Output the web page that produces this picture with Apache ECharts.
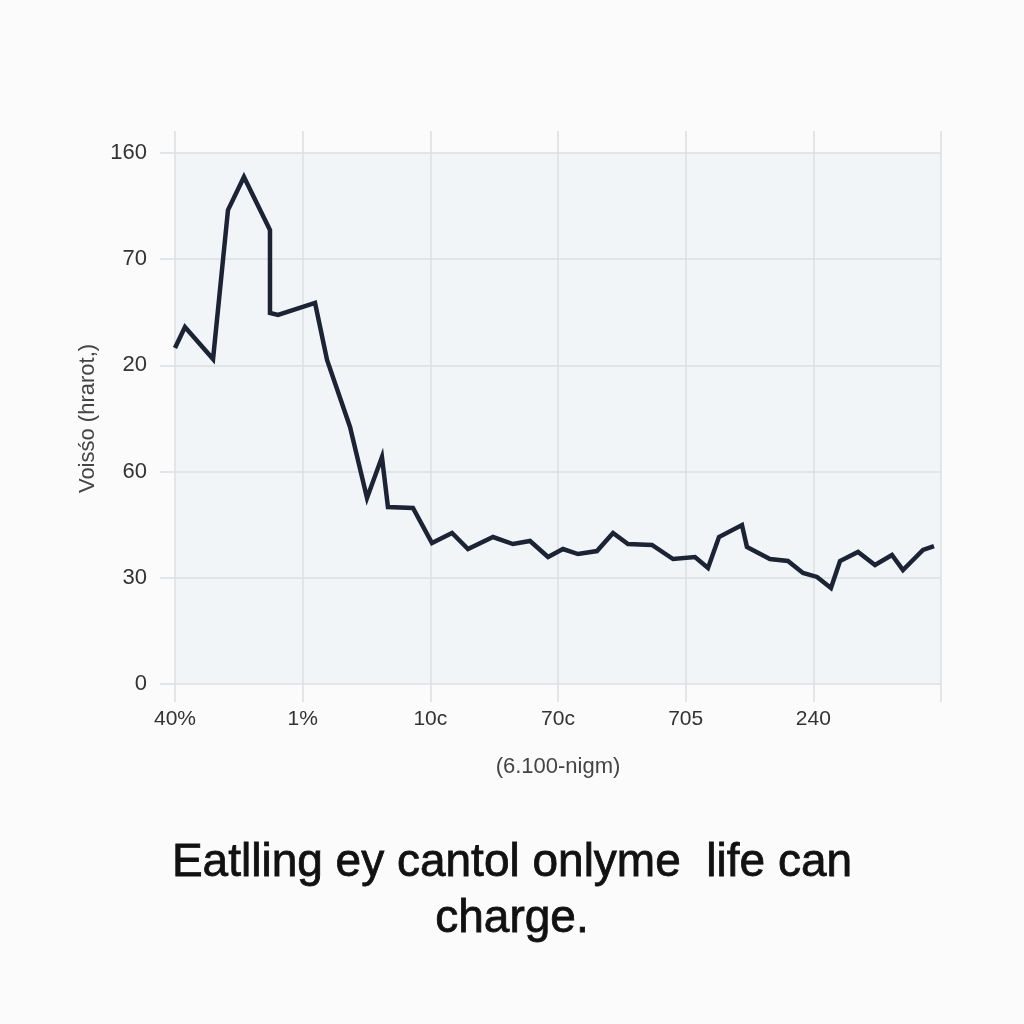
<!DOCTYPE html>
<html>
<head>
<meta charset="utf-8">
<script src="https://cdn.jsdelivr.net/npm/echarts@6/dist/echarts.min.js"></script>
<style>
html,body{margin:0;padding:0;background:#fbfbfb;}
#chart{width:1024px;height:1024px;}
</style>
</head>
<body>
<div id="chart"></div>
<script>
// Tick labels (as printed in the reference)
var xTickLabels = ['40%', '1%', '10c', '70c', '705', '240', ''];
var yTickLabels = ['0', '30', '60', '20', '70', '160'];
// Series: positions in axis tick units
var xValues = [0, 0.078, 0.298, 0.415, 0.540, 0.744, 0.744, 0.807, 1.097, 1.191,
  1.371, 1.504, 1.621, 1.668, 1.864, 2.013, 2.170, 2.295, 2.491, 2.647,
  2.781, 2.922, 3.039, 3.157, 3.305, 3.431, 3.548, 3.736, 3.901, 4.073,
  4.175, 4.261, 4.441, 4.480, 4.660, 4.801, 4.919, 5.029, 5.138, 5.209,
  5.350, 5.483, 5.616, 5.702, 5.859, 5.945];
var yValues = [3.164, 3.362, 3.060, 4.463, 4.774, 4.275, 3.493, 3.475, 3.588, 3.051,
  2.420, 1.751, 2.137, 1.667, 1.657, 1.328, 1.422, 1.271, 1.384, 1.318,
  1.347, 1.196, 1.271, 1.224, 1.252, 1.422, 1.318, 1.309, 1.177, 1.196,
  1.092, 1.384, 1.497, 1.290, 1.177, 1.158, 1.045, 1.008, 0.904, 1.158,
  1.243, 1.121, 1.215, 1.073, 1.262, 1.299];
var titleText = 'Eatlling ey cantol onl\u0443me  life can\ncharge.';
var xName = '(6.100-nigm)';
var yName = 'Vois\u015bo (hrarot,)';

var seriesData = xValues.map(function (x, i) { return [x, yValues[i]]; });
var gridColor = '#dcdfe3';
var chart = echarts.init(document.getElementById('chart'));
chart.setOption({
  backgroundColor: '#fbfbfb',
  animation: false,
  title: {
    text: titleText,
    left: 'center',
    top: 830,
    textStyle: {
      fontFamily: 'Liberation Sans',
      fontSize: 46,
      fontWeight: 'normal',
      color: '#111',
      textBorderColor: '#111',
      textBorderWidth: 0.8,
      lineHeight: 56,
      align: 'center'
    }
  },
  grid: {
    left: 175, right: 83, top: 153, bottom: 340,
    show: true, backgroundColor: '#f2f5f8', borderWidth: 0
  },
  xAxis: [{
    type: 'value', min: 0, max: 6, interval: 1,
    position: 'bottom',
    name: xName, nameLocation: 'middle', nameGap: 72,
    nameTextStyle: { fontFamily: 'Liberation Sans', fontSize: 22, color: '#444' },
    axisLine: { show: false },
    axisTick: { show: true, length: 18, lineStyle: { color: gridColor, width: 1.5 } },
    axisLabel: {
      margin: 25, fontFamily: 'Liberation Sans', fontSize: 21, color: '#333',
      showMaxLabel: true,
      formatter: function (v) { return xTickLabels[Math.round(v)] || ''; }
    },
    splitLine: { show: true, lineStyle: { color: gridColor, width: 1.5 } }
  }, {
    type: 'value', min: 0, max: 6, interval: 1,
    position: 'top',
    axisLine: { show: false },
    axisTick: { show: true, length: 22, lineStyle: { color: gridColor, width: 1.5 } },
    axisLabel: { show: false },
    splitLine: { show: false }
  }],
  yAxis: {
    type: 'value', min: 0, max: 5, interval: 1,
    name: yName, nameLocation: 'middle', nameGap: 66, nameRotate: 90,
    nameTextStyle: { fontFamily: 'Liberation Sans', fontSize: 22, color: '#444' },
    axisLine: { show: false },
    axisTick: { show: true, length: 15, lineStyle: { color: gridColor, width: 1.5 } },
    axisLabel: {
      margin: 28, fontFamily: 'Liberation Sans', fontSize: 22, color: '#333',
      formatter: function (v) { return yTickLabels[Math.round(v)]; }
    },
    splitLine: { show: true, lineStyle: { color: gridColor, width: 1.5 } }
  },
  series: [{
    type: 'line',
    data: seriesData,
    showSymbol: false,
    symbol: 'none',
    lineStyle: { color: '#1b2334', width: 4.5, join: 'miter' },
    z: 5
  }]
});
</script>
</body>
</html>
